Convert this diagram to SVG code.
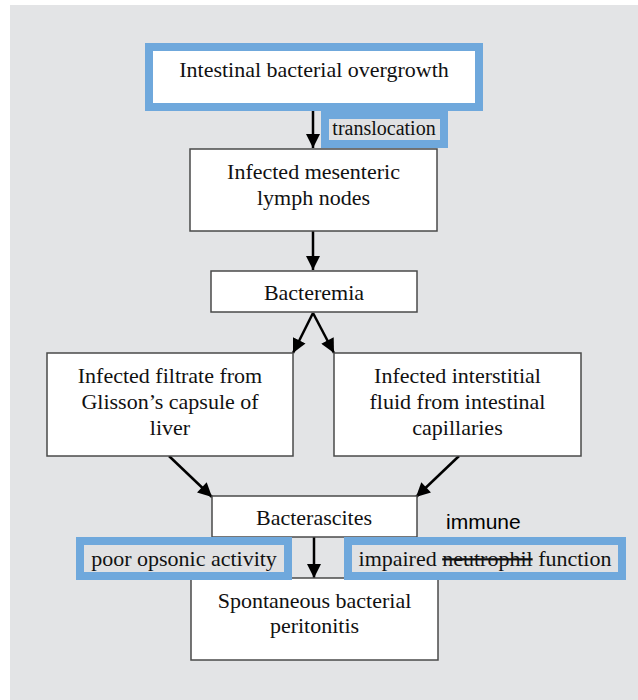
<svg xmlns="http://www.w3.org/2000/svg" width="638" height="700" viewBox="0 0 638 700">
<style>
.bg{fill:#e3e4e6}
.box{fill:#ffffff;stroke:#4a4a4a;stroke-width:1.5}
.hl{fill:#ffffff;stroke:#6fa8dc;stroke-width:8}
.lbl{fill:#e0e1e3;stroke:#6fa8dc;stroke-width:8}
.t{font-family:"Liberation Serif","Times New Roman",serif;font-size:22px;fill:#111;text-anchor:middle}
.ts{font-family:"Liberation Serif","Times New Roman",serif;font-size:20px;fill:#111;text-anchor:middle}
.sans{font-family:"Liberation Sans",Arial,sans-serif;font-size:21px;fill:#000}
.c{stroke:#000;stroke-width:2.5;fill:none;marker-end:url(#ah)}
</style>
<defs>
<marker id="ah" viewBox="0 0 10 10" refX="10" refY="5" markerWidth="15" markerHeight="14" markerUnits="userSpaceOnUse" orient="auto">
<path d="M0,0 L10,5 L0,10 Z" fill="#000"/>
</marker>
</defs>
<rect class="bg" x="10" y="5" width="628" height="695"/>

<g id="connectors">
<line class="c" x1="313" y1="111" x2="313" y2="148"/>
<line class="c" x1="313" y1="231" x2="313" y2="270"/>
<line class="c" x1="313" y1="313" x2="293" y2="353"/>
<line class="c" x1="313" y1="313" x2="334" y2="353"/>
<line class="c" x1="169" y1="456" x2="212" y2="497"/>
<line class="c" x1="459" y1="456" x2="416" y2="497"/>
<line class="c" x1="314" y1="537" x2="314" y2="578"/>
</g>

<g id="n1">
<rect class="hl" x="149" y="47" width="330" height="60"/>
<text class="t" x="314" y="77">Intestinal bacterial overgrowth</text>
</g>
<g id="lbl-translocation">
<rect class="lbl" x="325" y="115" width="119" height="29"/>
<text class="ts" x="384" y="135">translocation</text>
</g>
<g id="n2">
<rect class="box" x="190" y="149" width="247" height="82"/>
<text class="t" x="313.5" y="179">Infected mesenteric</text>
<text class="t" x="313.5" y="205">lymph nodes</text>
</g>
<g id="n3">
<rect class="box" x="211" y="271" width="206" height="41"/>
<text class="t" x="314" y="300">Bacteremia</text>
</g>
<g id="n4">
<rect class="box" x="47" y="353" width="246" height="103"/>
<text class="t" x="170" y="383">Infected filtrate from</text>
<text class="t" x="170" y="409">Glisson’s capsule of</text>
<text class="t" x="170" y="435">liver</text>
</g>
<g id="n5">
<rect class="box" x="334" y="353" width="247" height="103"/>
<text class="t" x="457.5" y="383">Infected interstitial</text>
<text class="t" x="457.5" y="409">fluid from intestinal</text>
<text class="t" x="457.5" y="435">capillaries</text>
</g>
<g id="n6">
<rect class="box" x="212" y="496" width="205" height="41"/>
<text class="t" x="314" y="525">Bacterascites</text>
</g>
<g id="n7">
<rect class="box" x="191" y="578" width="247" height="82"/>
<text class="t" x="314.5" y="608">Spontaneous bacterial</text>
<text class="t" x="314.5" y="633">peritonitis</text>
</g>
<g id="lbl-opsonic">
<rect class="lbl" x="80" y="541" width="208" height="35"/>
<text class="t" x="184" y="566">poor opsonic activity</text>
</g>
<g id="lbl-neutrophil">
<rect class="lbl" x="348" y="541" width="274" height="35"/>
<text class="t" x="485" y="566">impaired <tspan text-decoration="line-through">neutrophil</tspan> function</text>
</g>
<text class="sans" x="446" y="529">immune</text>
</svg>
